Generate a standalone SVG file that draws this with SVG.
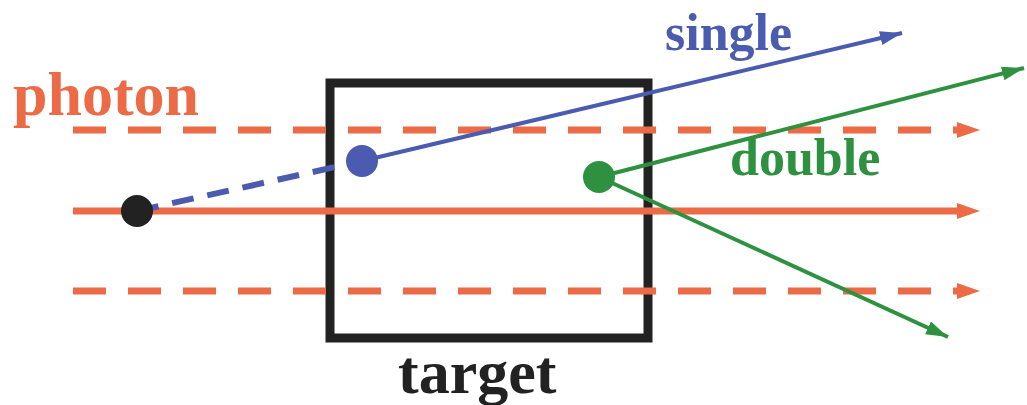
<svg xmlns="http://www.w3.org/2000/svg" width="1027" height="405" viewBox="0 0 1027 405">
<style>
.lbl{font-family:"Liberation Serif","Times New Roman",serif;font-weight:bold}
.or{stroke:#EC6A45;stroke-width:7;fill:none}
.dash{stroke-dasharray:33 22}
</style>
<defs>
<marker id="aO" markerUnits="userSpaceOnUse" markerWidth="24" markerHeight="18" refX="0" refY="8" orient="auto"><path d="M0,0 L23,8 L0,16 z" fill="#EC6A45"/></marker>
<marker id="aB" markerUnits="userSpaceOnUse" markerWidth="24" markerHeight="16" refX="22" refY="7" orient="auto"><path d="M0,0 L22,7 L0,14 z" fill="#4A5BB0"/></marker>
<marker id="aG" markerUnits="userSpaceOnUse" markerWidth="24" markerHeight="16" refX="22" refY="7" orient="auto"><path d="M0,0 L22,7 L0,14 z" fill="#2E9140"/></marker>
</defs>
<rect width="1027" height="405" fill="#fff"/>
<g id="target">
<rect x="330" y="83" width="318" height="255" fill="none" stroke="#222" stroke-width="9"/>
<text class="lbl" x="398" y="393" font-size="62" fill="#222">target</text>
</g>
<g id="connectors">
<line class="or dash" x1="73" y1="130" x2="957" y2="130" marker-end="url(#aO)"/>
<line class="or" x1="73" y1="211" x2="957" y2="211" marker-end="url(#aO)"/>
<line class="or dash" x1="73" y1="291" x2="957" y2="291" marker-end="url(#aO)"/>
<line x1="137" y1="211" x2="362" y2="161" stroke="#4A5BB0" stroke-width="6" stroke-dasharray="22 14"/>
<line x1="362" y1="161" x2="902" y2="33" stroke="#4A5BB0" stroke-width="4" marker-end="url(#aB)"/>
<line x1="599" y1="177" x2="1024" y2="68" stroke="#2E9140" stroke-width="4" marker-end="url(#aG)"/>
<line x1="599" y1="177" x2="948" y2="337" stroke="#2E9140" stroke-width="4" marker-end="url(#aG)"/>
</g>
<g id="photon">
<text class="lbl" x="13" y="115" font-size="62" fill="#EC6A45">photon</text>
</g>
<g id="source"><circle cx="137" cy="211" r="16" fill="#222"/></g>
<g id="single">
<circle cx="362" cy="161" r="16" fill="#4A5BB0"/>
<text class="lbl" x="665" y="50" font-size="52" fill="#4A5BB0">single</text>
</g>
<g id="double">
<circle cx="599" cy="177" r="16" fill="#2E9140"/>
<text class="lbl" x="730" y="175" font-size="52" fill="#2E9140">double</text>
</g>
</svg>
